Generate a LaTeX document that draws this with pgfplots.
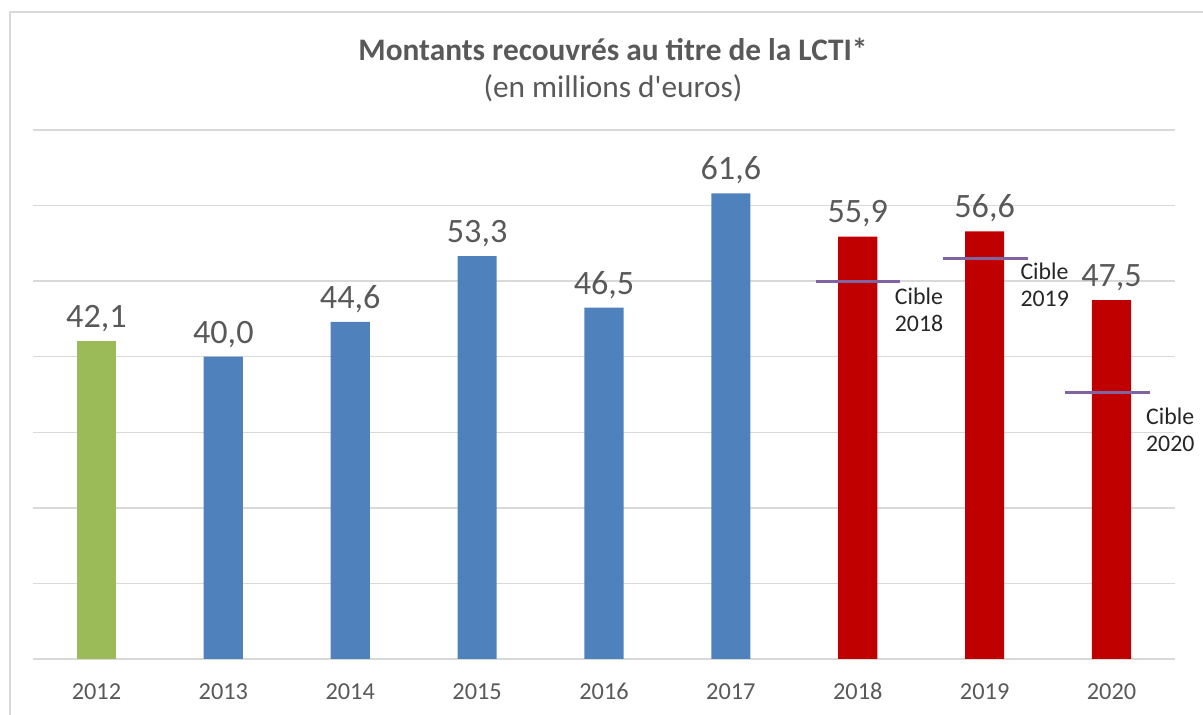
\documentclass[border=0pt]{standalone}
\usepackage{pgfplots}
\pgfplotsset{compat=1.18}
\usepackage{fontspec}
\setmainfont{Carlito}
\definecolor{cgreen}{HTML}{9BBB59}
\definecolor{cblue}{HTML}{4F81BD}
\definecolor{cred}{HTML}{C00000}
\definecolor{cpurple}{HTML}{8064A2}
\definecolor{ctext}{HTML}{595959}
\definecolor{cgrid}{HTML}{D9D9D9}
\begin{document}
\begin{tikzpicture}[x=0.6pt,y=0.6pt]
\useasboundingbox (0,0) rectangle (1203,715);
\draw[cgrid,line width=1.2pt] (10,0) -- (10,703) -- (1203,703);
\node[font=\fontsize{18.8}{22}\selectfont\bfseries,text=ctext] at (613,666) {Montants recouvrés au titre de la LCTI*};
\node[font=\fontsize{18.8}{22}\selectfont,text=ctext] at (613,627) {(en millions d\textquotesingle euros)};
\begin{axis}[
  at={(19.8pt,33.6pt)}, anchor=south west,
  scale only axis, width=685.2pt, height=317.4pt,
  xmin=-0.5, xmax=8.5, ymin=0, ymax=70,
  axis line style={draw=none},
  axis x line*=bottom,
  ytick={0,10,20,30,40,50,60,70},
  yticklabels={},
  ymajorgrids, grid style={cgrid,line width=0.8pt},
  major tick length=0pt,
  xtick={0,...,8},
  xticklabels={2012,2013,2014,2015,2016,2017,2018,2019,2020},
  xticklabel style={font=\fontsize{14.6}{16}\selectfont,text=ctext,yshift=-11pt},
  ybar, bar width=23.5pt, bar shift=0pt,
  nodes near coords,
  nodes near coords style={font=\fontsize{20.5}{24}\selectfont,text=ctext,yshift=2pt,
    /pgf/number format/fixed,/pgf/number format/fixed zerofill,/pgf/number format/precision=1,/pgf/number format/use comma,/pgf/number format/assume math mode=true},
  clip=false,
]
\addplot[fill=cgreen,draw=none] coordinates {(0,42.1)};
\addplot[fill=cblue,draw=none] coordinates {(1,40.0) (2,44.6) (3,53.3) (4,46.5) (5,61.6)};
\addplot[fill=cred,draw=none] coordinates {(6,55.9) (7,56.6) (8,47.5)};
\addplot[sharp plot,cpurple,line width=1.8pt,nodes near coords={}] coordinates {(5.67,50.0) (6.33,50.0)};
\addplot[sharp plot,cpurple,line width=1.8pt,nodes near coords={}] coordinates {(6.67,53.0) (7.34,53.0)};
\addplot[sharp plot,cpurple,line width=1.8pt,nodes near coords={}] coordinates {(7.63,35.3) (8.30,35.3)};
\node[font=\fontsize{14.3}{16.2}\selectfont,text=black!85,align=left,anchor=north west,inner sep=0pt] at (axis cs:6.29,49.1) {Cible\\2018};
\node[font=\fontsize{14.3}{16.2}\selectfont,text=black!85,align=left,anchor=north west,inner sep=0pt] at (axis cs:7.28,52.4) {Cible\\2019};
\node[font=\fontsize{14.3}{16.2}\selectfont,text=black!85,align=left,anchor=north west,inner sep=0pt] at (axis cs:8.27,33.3) {Cible\\2020};
\end{axis}
\end{tikzpicture}
\end{document}
